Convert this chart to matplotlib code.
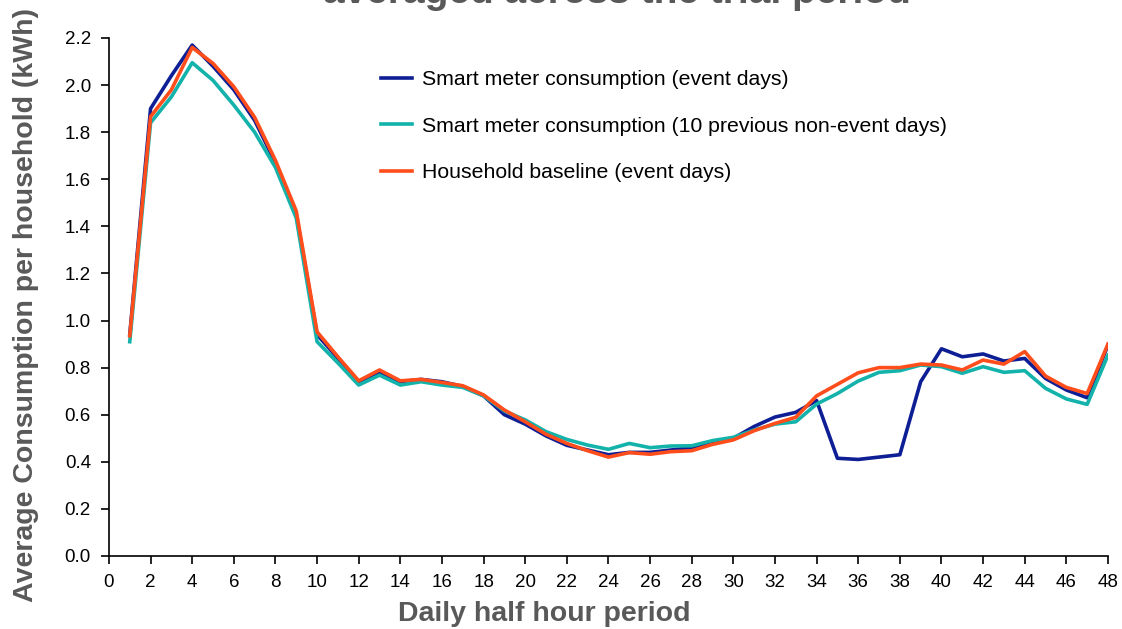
import matplotlib
matplotlib.use("Agg")
import matplotlib.pyplot as plt

plt.rcParams["font.family"] = ["Liberation Sans", "DejaVu Sans"]

periods = list(range(1, 49))

event_days = [
    0.94, 1.90, 2.04, 2.17, 2.08, 1.98, 1.85, 1.67, 1.45, 0.94,
    0.84, 0.74, 0.78, 0.74, 0.75, 0.74, 0.72, 0.68, 0.60, 0.56,
    0.51, 0.47, 0.45, 0.43, 0.44, 0.44, 0.45, 0.46, 0.48, 0.50,
    0.55, 0.59, 0.61, 0.66, 0.415, 0.41, 0.42, 0.43, 0.74, 0.88,
    0.846, 0.858, 0.828, 0.839, 0.754, 0.705, 0.672, 0.896,
]
previous_days = [
    0.91, 1.84, 1.95, 2.095, 2.02, 1.915, 1.80, 1.65, 1.435, 0.91,
    0.82, 0.726, 0.768, 0.726, 0.74, 0.726, 0.716, 0.68, 0.616, 0.578,
    0.528, 0.495, 0.471, 0.453, 0.478, 0.46, 0.467, 0.468, 0.49, 0.504,
    0.535, 0.56, 0.57, 0.645, 0.69, 0.743, 0.78, 0.787, 0.811, 0.804,
    0.776, 0.804, 0.78, 0.787, 0.712, 0.667, 0.644, 0.853,
]
baseline = [
    0.935, 1.866, 1.98, 2.16, 2.092, 1.993, 1.863, 1.68, 1.465, 0.952,
    0.846, 0.744, 0.79, 0.744, 0.75, 0.737, 0.723, 0.684, 0.62, 0.57,
    0.517, 0.478, 0.447, 0.42, 0.439, 0.432, 0.443, 0.447, 0.474, 0.493,
    0.532, 0.563, 0.589, 0.68, 0.729, 0.778, 0.80, 0.80, 0.815, 0.811,
    0.79, 0.832, 0.815, 0.868, 0.764, 0.716, 0.69, 0.90,
]

labels = [
    "Smart meter consumption (event days)",
    "Smart meter consumption (10 previous non-event days)",
    "Household baseline (event days)",
]
colors = ["#0E1E94", "#13B2AA", "#FF4D1C"]
grey = "#595959"

fig = plt.figure(figsize=(11.22, 6.29), dpi=100)
ax = fig.add_axes([0.0971, 0.1161, 0.8904, 0.8235])

for series, lab, col in zip([event_days, previous_days, baseline], labels, colors):
    ax.plot(periods, series, color=col, lw=2.6, label=lab)

ax.set_xlim(0, 48)
ax.set_ylim(0, 2.2)
ax.set_xticks(range(0, 49, 2))
ax.set_yticks([i / 10 for i in range(0, 23, 2)])
ax.set_yticklabels([f"{i / 10:.1f}" for i in range(0, 23, 2)])
ax.tick_params(labelsize=13.5, width=1.2, length=6, color="black")
ax.tick_params(axis="x", pad=6.8)
ax.tick_params(axis="y", pad=7)
ax.spines["top"].set_visible(False)
ax.spines["right"].set_visible(False)
for s in ("left", "bottom"):
    ax.spines[s].set_linewidth(1.2)

# axis titles placed in figure pixels to match the original layout
fig.text(544 / 1122, 1 - 614 / 629, "Daily half hour period", ha="center",
         va="center", fontsize=20.5, fontweight="bold", color=grey)
fig.text(26 / 1122, 1 - 305 / 629, "Average Consumption per household (kWh)",
         ha="center", va="center", rotation=90, fontsize=20.5,
         fontweight="bold", color=grey)

# title is cut off by the top edge in the original
fig.text(617 / 1122, 0.995, "averaged across the trial period", ha="center",
         va="baseline", fontsize=28, fontweight="bold", color=grey)

ax.legend(loc="upper left", bbox_to_anchor=(381 / 1122, 1 - 70 / 629),
          bbox_transform=fig.transFigure, frameon=False, fontsize=15.3,
          handlelength=1.46, handletextpad=0.47, labelspacing=1.3,
          borderpad=0, borderaxespad=0)

fig.savefig("out.png", dpi=100)
